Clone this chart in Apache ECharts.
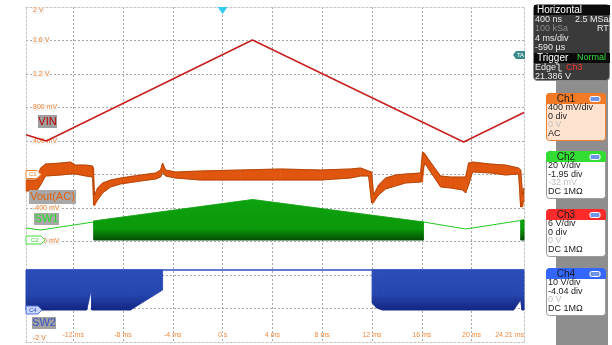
<!DOCTYPE html>
<html><head><meta charset="utf-8">
<script src="https://cdn.jsdelivr.net/npm/echarts@6/dist/echarts.min.js"></script>
<style>html,body{margin:0;padding:0;background:#fff}#c{width:612px;height:345px}</style>
</head><body><div id="c"></div>
<script>
// ---- axes ----
const timeMin = -15.79, timeMax = 24.21;            // ms
const timeTicks = [-12, -8, -4, 0, 4, 8, 12, 16, 20]; // ms
const timeEdgeLabel = 24.21;
const voltMin = -2, voltMax = 2;                     // display volts (Ch1 scale)
const voltLabels = [-2, -1.6, -1.2, -0.8, -0.4, 0.4, 0.8, 1.2, 1.6, 2];

// ---- VIN (Ch3) ----
const vinT = [-15.79, -14.16, 2.40, 19.36, 24.21];
const vinV = [0.475, 0.400, 1.606, 0.388, 0.74];

// ---- Vout(AC) (Ch1) band: upper / lower envelope ----
const voutT  = [-15.79,-14.94,-14.62,-14.22,-13.01,-12.21,-11.81,-11.00,-10.44,-10.36,-10.28,-10.04,-9.64,-8.99,-8.19,-6.59,-5.38,-4.98,-4.82,-4.58,-3.78,-1.77,1.45,4.66,7.87,10.28,11.08,11.73,11.97,12.13,12.53,13.09,13.90,14.70,15.90,16.06,16.22,16.87,17.51,18.31,19.28,19.52,19.76,20.08,21.53,22.73,23.78,23.94,24.10,24.21];
const voutHi = [-0.066,-0.066,0.078,0.125,0.137,0.149,0.113,0.113,0.101,0.078,-0.245,-0.161,-0.101,-0.066,-0.042,-0.006,0.018,0.054,0.137,0.054,0.030,0.042,0.054,0.066,0.054,0.066,0.078,0.042,0.030,-0.245,-0.125,-0.042,-0.006,0.006,0.018,0.269,0.257,0.113,-0.018,-0.030,-0.030,-0.030,0.137,0.149,0.125,0.113,0.078,0.054,-0.245,-0.161];
const voutLo = [-0.197,-0.197,-0.125,-0.018,-0.006,0.006,0.006,-0.018,-0.030,-0.364,-0.376,-0.304,-0.221,-0.149,-0.113,-0.078,-0.054,-0.030,0.030,-0.018,-0.042,-0.066,-0.066,-0.066,-0.066,-0.042,-0.018,-0.018,-0.340,-0.340,-0.245,-0.173,-0.137,-0.101,-0.090,-0.090,0.137,-0.006,-0.149,-0.161,-0.185,-0.221,-0.125,0.030,0.018,-0.006,0.006,-0.388,-0.388,-0.304];

// ---- SW1 (Ch2) ----
const sw1LineT = [-15.79, -14.62, -10.36, 16.14, 19.52, 23.94, 24.21];
const sw1LineV = [-0.639, -0.663, -0.567, -0.567, -0.651, -0.549, -0.543];
const sw1FillAT = [-10.36, 2.41, 16.14];
const sw1FillATop = [-0.555, -0.299, -0.567];
const sw1FillABot = [-0.782, -0.782, -0.782];
const sw1FillBT = [23.94, 24.21];
const sw1FillBTop = [-0.549, -0.543];
const sw1FillBBot = [-0.782, -0.782];

// ---- SW2 (Ch4) ----
const sw2LineT = [-15.79, 24.21];
const sw2LineV = [-1.140, -1.140];
const sw2FillAT = [-15.79, -10.92, -10.55, -10.50, -7.41, -4.82];
const sw2FillATop = [-1.140, -1.140, -1.140, -1.140, -1.140, -1.140];
const sw2FillABot = [-1.618, -1.618, -1.379, -1.618, -1.618, -1.379];
const sw2FillBT = [12.01, 12.37, 12.85, 23.37, 23.94, 24.06, 24.21];
const sw2FillBTop = [-1.140, -1.140, -1.140, -1.140, -1.140, -1.140, -1.140];
const sw2FillBBot = [-1.534, -1.594, -1.618, -1.618, -1.499, -1.618, -1.618];

// ---- reference markers (display volts) ----
const ch1Zero = 0, ch2Zero = -0.782, ch4Zero = -1.618, trigLevel = 1.426, trigTime = 0;

const FONT = 'Liberation Sans';
const chart = echarts.init(document.getElementById('c'), null, {renderer: 'canvas'});

function pairs(t, v) { return t.map((x, i) => [x, v[i]]); }

function band(t, hi, lo, fillFn, z) {
  const data = t.map((x, i) => [x, hi[i], lo[i]]);
  return {
    type: 'custom', silent: true, z: z, data: data,
    encode: {x: 0, y: [1, 2]},
    renderItem: function (params, api) {
      const i = params.dataIndex;
      if (i >= data.length - 1) return null;
      const a = data[i], b = data[i + 1];
      const pts = [api.coord([a[0], a[1]]), api.coord([b[0], b[1]]), api.coord([b[0], b[2]]), api.coord([a[0], a[2]])];
      const f = fillFn(api);
      return {type: 'polygon', shape: {points: pts}, style: {fill: f, stroke: f, lineWidth: 0.6}};
    }
  };
}

const greenFill = api => new echarts.graphic.LinearGradient(0, api.coord([0, -0.3])[1], 0, api.coord([0, ch2Zero])[1],
  [{offset: 0, color: '#0ea20e'}, {offset: 0.72, color: '#0a990a'}, {offset: 1, color: '#055005'}], true);
const blueFill = api => new echarts.graphic.LinearGradient(0, api.coord([0, -1.14])[1], 0, api.coord([0, ch4Zero])[1],
  [{offset: 0, color: '#2c4cb8'}, {offset: 0.6, color: '#2646ae'}, {offset: 1, color: '#132684'}], true);
const orangeFill = () => '#e0560e';

function voltFmt(v) {
  if (Math.abs(v) >= 1) return (Math.round(v * 10) / 10) + ' V';
  return Math.round(v * 1000) + ' mV';
}

const option = {
  animation: false,
  backgroundColor: '#ffffff',
  grid: {left: 26, right: 88, top: 7, bottom: 3, containLabel: false},
  xAxis: [{
    type: 'value', min: timeMin, max: timeMax, position: 'bottom',
    axisLine: {show: true, onZero: false, lineStyle: {color: '#c4c4c4', type: [2, 2]}},
    axisTick: {show: false, customValues: timeTicks},
    splitLine: {show: true, lineStyle: {color: '#a8a8a8', type: [2, 2], width: 1}},
    axisLabel: {inside: true, margin: 3, customValues: timeTicks.concat([timeEdgeLabel]), color: '#f08a3c',
      fontSize: 7, fontFamily: FONT, alignMaxLabel: 'right',
      formatter: v => (v === 0 ? '0 s' : (Math.round(v * 100) / 100) + ' ms')}
  }, {
    type: 'value', min: timeMin, max: timeMax, position: 'top',
    axisLine: {show: true, onZero: false, lineStyle: {color: '#c4c4c4', type: [2, 2]}},
    axisTick: {show: false}, splitLine: {show: false}, axisLabel: {show: false}
  }],
  yAxis: [{
    type: 'value', min: voltMin, max: voltMax, interval: 0.4, position: 'left',
    axisLine: {show: true, onZero: false, lineStyle: {color: '#c4c4c4', type: [2, 2]}},
    axisTick: {show: false},
    splitLine: {show: true, lineStyle: {color: '#a8a8a8', type: [2, 2], width: 1}},
    axisLabel: {inside: true, margin: 6, customValues: voltLabels, color: '#f08a3c', fontSize: 7, fontFamily: FONT,
      backgroundColor: 'rgba(244,244,244,0.95)', padding: [0, 1],
      verticalAlignMaxLabel: 'top', verticalAlignMinLabel: 'bottom', formatter: voltFmt}
  }, {
    type: 'value', min: voltMin, max: voltMax, position: 'right',
    axisLine: {show: true, onZero: false, lineStyle: {color: '#c4c4c4', type: [2, 2]}},
    axisTick: {show: false}, splitLine: {show: false}, axisLabel: {show: false}
  }],
  series: [
    {type: 'line', data: pairs(sw1LineT, sw1LineV), symbol: 'none', lineStyle: {color: '#22cc22', width: 1}, z: 3, silent: true},
    band(sw1FillAT, sw1FillATop, sw1FillABot, greenFill, 4),
    band(sw1FillBT, sw1FillBTop, sw1FillBBot, greenFill, 4),
    {type: 'line', data: pairs(sw2LineT, sw2LineV), symbol: 'none', lineStyle: {color: '#2c4cc0', width: 1.5}, z: 3, silent: true},
    band(sw2FillAT, sw2FillATop, sw2FillABot, blueFill, 4),
    band(sw2FillBT, sw2FillBTop, sw2FillBBot, blueFill, 4),
    band(voutT, voutHi, voutLo, orangeFill, 5),
    {type: 'line', data: pairs(voutT, voutHi), symbol: 'none', lineStyle: {color: '#a83c00', width: 0.8}, z: 6, silent: true},
    {type: 'line', data: pairs(voutT, voutLo), symbol: 'none', lineStyle: {color: '#a83c00', width: 0.8}, z: 6, silent: true},
    {type: 'line', data: pairs(vinT, vinV), symbol: 'none', lineStyle: {color: '#c81e1e', width: 1.5}, z: 7, silent: true}
  ]
};
chart.setOption(option);

// ---- overlay: markers, labels, side panel ----
function txt(x, y, text, fill, size, align, weight) {
  return {type: 'text', x: x, y: y, silent: true, z: 100,
    style: {text: text, fill: fill, fontSize: size || 9, fontFamily: FONT, fontWeight: weight || 'normal',
      verticalAlign: 'middle', align: align || 'left'}};
}
function rect(x, y, w, h, fill, stroke, r) {
  return {type: 'rect', silent: true, z: 99, shape: {x: x, y: y, width: w, height: h, r: r || 0},
    style: {fill: fill, stroke: stroke || null, lineWidth: 1}};
}
function poly(points, fill, stroke) {
  return {type: 'polygon', silent: true, z: 100, shape: {points: points}, style: {fill: fill, stroke: stroke || null, lineWidth: 1}};
}
const P = (t, v) => chart.convertToPixel({xAxisIndex: 0, yAxisIndex: 0}, [t, v]);
const g = [];
const plotLeft = P(timeMin, 0)[0], plotRight = P(timeMax, 0)[0], plotTop = P(0, voltMax)[1];

// channel markers
let my = P(0, ch1Zero)[1];
g.push(poly([[plotLeft, my - 4], [plotLeft + 11, my - 4], [plotLeft + 15, my], [plotLeft + 11, my + 4], [plotLeft, my + 4]], '#ffffff', '#f08030'));
g.push(txt(plotLeft + 3, my, 'C1', '#f08030', 6));
my = P(0, ch2Zero)[1];
g.push(poly([[plotLeft, my - 4], [plotLeft + 15, my - 4], [plotLeft + 19, my], [plotLeft + 15, my + 4], [plotLeft, my + 4]], '#ffffff', '#44dd44'));
g.push(txt(plotLeft + 5, my, 'C2', '#44cc44', 6));
my = P(0, ch4Zero)[1];
g.push(poly([[plotLeft, my - 4], [plotLeft + 12, my - 4], [plotLeft + 16, my], [plotLeft + 12, my + 4], [plotLeft, my + 4]], '#c9d5ff', '#5070e0'));
g.push(txt(plotLeft + 3, my, 'C4', '#3050c0', 6));
// trigger level / time markers
my = P(0, trigLevel)[1];
g.push(poly([[plotRight - 11, my], [plotRight - 8, my - 4], [plotRight + 1, my - 4], [plotRight + 1, my + 4], [plotRight - 8, my + 4]], '#3a8a8a'));
g.push(txt(plotRight - 3.5, my, 'TA', '#ffffff', 6, 'center'));
const xt = P(trigTime, 0)[0];
g.push(poly([[xt - 5, plotTop], [xt + 5, plotTop], [xt, plotTop + 7]], '#33ccee'));

// waveform name tags
g.push(rect(38, 115, 19, 13, '#9e9e9e')); g.push(txt(47.5, 121.5, 'VIN', '#c00000', 11, 'center'));
g.push(rect(29, 190, 47, 14, '#a8a8a8')); g.push(txt(52.5, 197, 'Vout(AC)', '#e0600a', 11, 'center'));
g.push(rect(34, 213, 25, 12, '#a8a8a8')); g.push(txt(46.5, 219, 'SW1', '#22e022', 11, 'center'));
g.push(rect(32, 317, 24, 12, '#a0a0a0')); g.push(txt(44, 323, 'SW2', '#3555c8', 11, 'center'));

// side panel
g.push(rect(556, 80, 52, 265, '#8e8e8e'));
g.push(rect(533.5, 4.5, 76, 76, '#3a3a3a', '#8a8a8a', 4));
g.push(rect(534, 5, 76, 10, '#0a0a0a'));
g.push(txt(537, 10, 'Horizontal', '#ffffff', 10));
g.push(txt(535, 19.5, '400 ns', '#e8e8e8'));
g.push(txt(575, 19.5, '2.5 MSa/s', '#e8e8e8'));
g.push(txt(535, 29, '100 kSa', '#8a8a8a'));
g.push(txt(597, 29, 'RT', '#e8e8e8'));
g.push(txt(535, 38.5, '4 ms/div', '#e8e8e8'));
g.push(txt(535, 48, '-590 µs', '#e8e8e8'));
g.push(rect(534, 53, 76, 10, '#0a0a0a'));
g.push(txt(537, 58, 'Trigger', '#ffffff', 10));
g.push(txt(577, 58, 'Normal', '#33dd33'));
g.push(txt(535, 67.5, 'Edge', '#e8e8e8'));
g.push({type: 'polyline', silent: true, z: 100, shape: {points: [[556, 64], [559, 64], [559, 71], [562, 71]]}, style: {stroke: '#e8e8e8', lineWidth: 1, fill: null}});
g.push(txt(566, 67.5, 'Ch3', '#ff3030'));
g.push(txt(535, 76.5, '21.386 V', '#e8e8e8'));

function chBox(y0, name, head, bodyFill, border, lines) {
  const h = 10 + lines.length * 8.5 + 3;
  g.push(rect(546.5, y0 + 0.5, 59, h, bodyFill, border, 3));
  g.push(rect(546.5, y0 + 0.5, 59, 10, head, head, [3, 3, 0, 0]));
  g.push(txt(566, y0 + 6, name, '#1a1a1a', 10, 'center'));
  g.push(rect(590, y0 + 3.5, 10, 5, '#6f95e8', '#ffffff', 1.5));
  lines.forEach((l, i) => g.push(txt(548, y0 + 15 + i * 8.5, l[0], l[1])));
}
chBox(93, 'Ch1', '#f27a26', '#fde3d0', '#f08030', [['400 mV/div', '#222'], ['0 div', '#222'], ['0 V', '#c0c0c0'], ['AC', '#222']]);
chBox(151, 'Ch2', '#33dd33', '#ffffff', '#9a9a9a', [['20 V/div', '#222'], ['-1.95 div', '#222'], ['-32 mV', '#c0c0c0'], ['DC 1MΩ', '#222']]);
chBox(209, 'Ch3', '#ff2a2a', '#ffffff', '#9a9a9a', [['6 V/div', '#222'], ['0 div', '#222'], ['0 V', '#c0c0c0'], ['DC 1MΩ', '#222']]);
chBox(268, 'Ch4', '#3366ff', '#ffffff', '#9a9a9a', [['10 V/div', '#222'], ['-4.04 div', '#222'], ['0 V', '#c0c0c0'], ['DC 1MΩ', '#222']]);

chart.setOption({graphic: g});
</script>
</body></html>
